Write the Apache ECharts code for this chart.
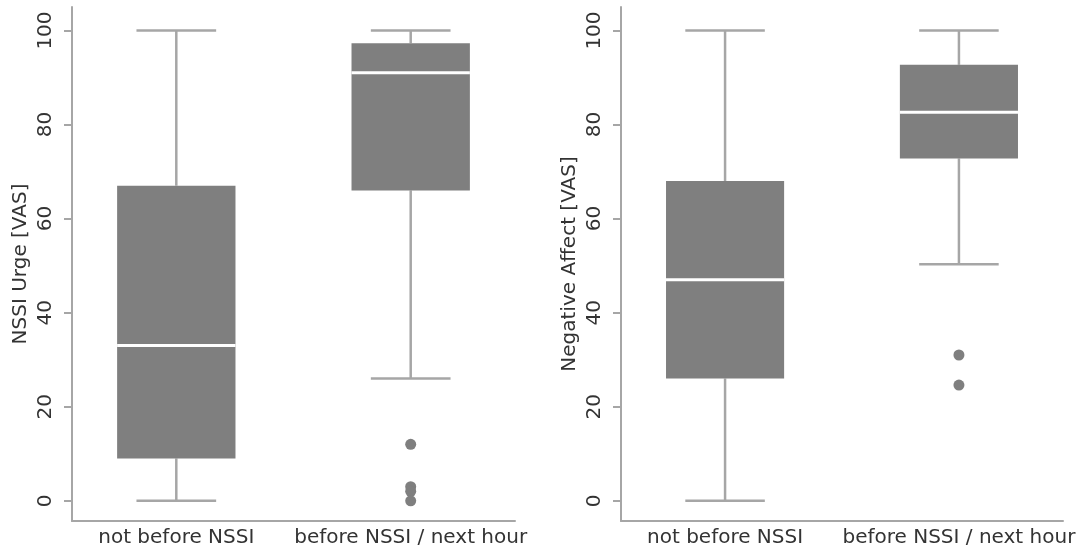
<!DOCTYPE html>
<html>
<head>
<meta charset="utf-8">
<script src="https://cdn.jsdelivr.net/npm/echarts@6/dist/echarts.min.js"></script>
<style>
  html, body { margin: 0; padding: 0; background: #fff; }
  #chart { width: 1087px; height: 549px; }
</style>
</head>
<body>
<div id="chart"></div>
<script>
// categories and tick labels
const categories = ['not before NSSI', 'before NSSI / next hour']
const yTicks = [0, 20, 40, 60, 80, 100]

// box stats per category: [lower whisker, Q1, median, Q3, upper whisker]
const urgeStats = [
  [0, 9, 33, 67, 100],
  [26, 66, 91, 97.3, 100]
]
const urgeOutliers = [[], [12, 3, 2, 0]]

const affectStats = [
  [0, 26, 47, 68, 100],
  [50.3, 72.8, 82.6, 92.7, 100]
]
const affectOutliers = [[], [31, 24.6]]

const BOX_GRAY = '#7f7f7f'
const LINE_GRAY = '#a6a6a6'
const TEXT = '#333'
const FONT = 'DejaVu Sans'

function boxData (stats) {
  return stats.map((s, i) => [i + 1].concat(s))
}
function outlierData (outs) {
  const res = []
  outs.forEach((list, i) => list.forEach((v) => res.push([i + 1, v])))
  return res
}

function renderBox (params, api) {
  const x = api.value(0)
  const lo = api.coord([x, api.value(1)])
  const q1 = api.coord([x, api.value(2)])
  const med = api.coord([x, api.value(3)])
  const q3 = api.coord([x, api.value(4)])
  const hi = api.coord([x, api.value(5)])
  const bw = api.size([0.505, 0])[0]
  const cw = api.size([0.34, 0])[0]
  const cx = lo[0]
  const lineStyle = { stroke: LINE_GRAY, lineWidth: 2.5 }
  return {
    type: 'group',
    children: [
      { type: 'line', shape: { x1: cx, y1: hi[1], x2: cx, y2: q3[1] }, style: lineStyle },
      { type: 'line', shape: { x1: cx, y1: q1[1], x2: cx, y2: lo[1] }, style: lineStyle },
      { type: 'line', shape: { x1: cx - cw / 2, y1: hi[1], x2: cx + cw / 2, y2: hi[1] }, style: lineStyle },
      { type: 'line', shape: { x1: cx - cw / 2, y1: lo[1], x2: cx + cw / 2, y2: lo[1] }, style: lineStyle },
      { type: 'rect', shape: { x: cx - bw / 2, y: q3[1], width: bw, height: q1[1] - q3[1] }, style: { fill: BOX_GRAY } },
      { type: 'line', shape: { x1: cx - bw / 2, y1: med[1], x2: cx + bw / 2, y2: med[1] }, style: { stroke: '#fff', lineWidth: 3 } }
    ]
  }
}

function xAxisOpt (gridIndex) {
  return {
    type: 'value',
    gridIndex: gridIndex,
    min: 0.555,
    max: 2.445,
    splitLine: { show: false },
    axisLine: { show: true, onZero: false, lineStyle: { color: LINE_GRAY, width: 2 } },
    axisTick: { show: false },
    axisLabel: {
      customValues: [1, 2],
      formatter: (v) => categories[Math.round(v) - 1] || '',
      color: TEXT,
      fontFamily: FONT,
      fontSize: 20,
      margin: 7
    }
  }
}

function yAxisOpt (gridIndex, name) {
  return {
    type: 'value',
    gridIndex: gridIndex,
    min: -4.3,
    max: 105,
    name: name,
    nameLocation: 'middle',
    nameRotate: 90,
    nameGap: 41,
    nameTextStyle: { color: TEXT, fontFamily: FONT, fontSize: 20 },
    splitLine: { show: false },
    axisLine: { show: true, onZero: false, lineStyle: { color: LINE_GRAY, width: 2 } },
    axisTick: { show: true, customValues: yTicks, length: 8, lineStyle: { color: LINE_GRAY, width: 2 } },
    axisLabel: {
      customValues: yTicks,
      rotate: 90,
      margin: 16,
      color: TEXT,
      fontFamily: FONT,
      fontSize: 20
    }
  }
}

const theEcharts = echarts.init(document.getElementById('chart'), null, { renderer: 'canvas' })
const options = {
  backgroundColor: '#fff',
  animation: false,
  grid: [
    { left: 72, right: 572, top: 7, bottom: 28 },
    { left: 621, right: 24, top: 7, bottom: 28 }
  ],
  xAxis: [xAxisOpt(0), xAxisOpt(1)],
  yAxis: [yAxisOpt(0, 'NSSI Urge [VAS]'), yAxisOpt(1, 'Negative Affect [VAS]')],
  series: [
    { type: 'custom', xAxisIndex: 0, yAxisIndex: 0, renderItem: renderBox, data: boxData(urgeStats) },
    { type: 'custom', xAxisIndex: 1, yAxisIndex: 1, renderItem: renderBox, data: boxData(affectStats) },
    { type: 'scatter', xAxisIndex: 0, yAxisIndex: 0, symbolSize: 11, itemStyle: { color: BOX_GRAY, opacity: 1 }, data: outlierData(urgeOutliers) },
    { type: 'scatter', xAxisIndex: 1, yAxisIndex: 1, symbolSize: 11, itemStyle: { color: BOX_GRAY, opacity: 1 }, data: outlierData(affectOutliers) }
  ]
}
theEcharts.setOption(options, true)
</script>
</body>
</html>
